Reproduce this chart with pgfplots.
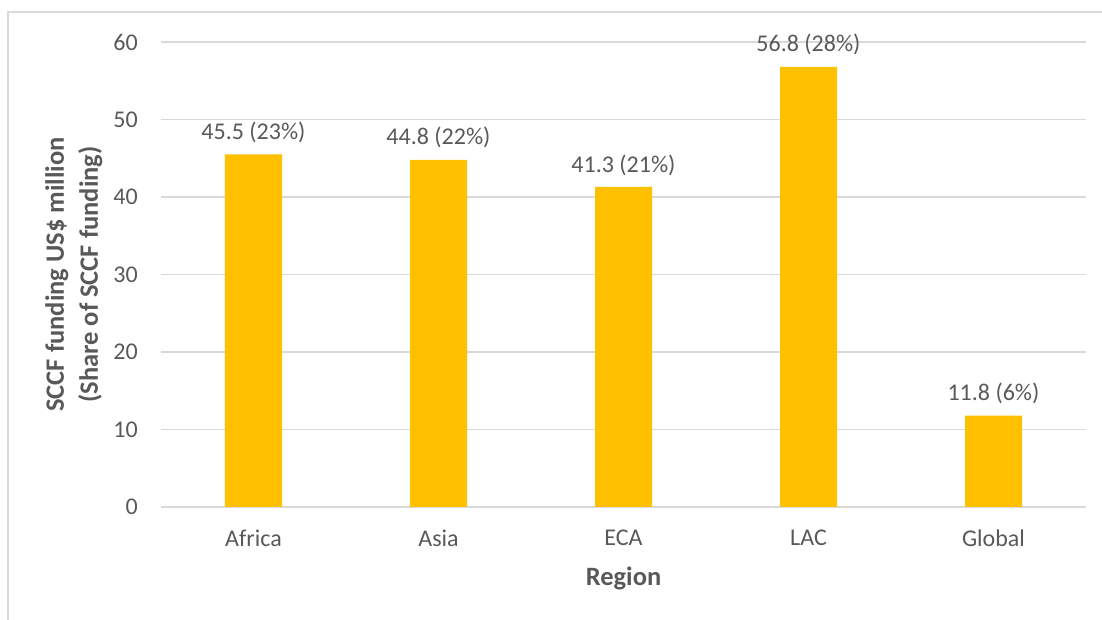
\documentclass[border=0pt]{standalone}
\usepackage{pgfplots}
\pgfplotsset{compat=1.18}
\usepackage{fontspec}
\setmainfont{Carlito}
\definecolor{barc}{HTML}{FFC000}
\definecolor{gridc}{HTML}{D9D9D9}
\definecolor{txt}{HTML}{595959}
\begin{document}
\begin{tikzpicture}[x=1pt,y=1pt]
\useasboundingbox (-161,-113) rectangle (941,507);
\draw[gridc, line width=1.3pt] (-153,-113) -- (-153,495) -- (941,495);
\begin{axis}[
  at={(0,0)}, anchor=south west,
  scale only axis, width=925pt, height=465pt,
  xmin=-0.5, xmax=4.5, ymin=0, ymax=60,
  ytick={0,10,...,60},
  xtick=data, xticklabels={Africa,Asia,ECA,LAC,Global},
  ymajorgrids, grid style={gridc, line width=1.2pt},
  axis line style={draw=none},
  major tick length=0pt,
  /pgf/number format/assume math mode=true,
  tick label style={font=\fontsize{24}{28}\selectfont, text=txt},
  yticklabel style={anchor=east, inner sep=0pt, xshift=-23pt},
  xticklabel style={anchor=center, inner sep=0pt, yshift=-31pt},
  xlabel={Region},
  ylabel={\def\arraystretch{1}\begin{tabular}{@{}c@{}}SCCF funding US\$ million\\(Share of SCCF funding)\end{tabular}},
  label style={font=\bfseries\fontsize{26.5}{34}\selectfont, text=txt},
  xlabel style={at={(axis description cs:0.5,-0.1527)}, anchor=center, inner sep=0pt},
  ylabel style={at={(axis description cs:-0.094,0.5)}, anchor=center, inner sep=0pt},
  ybar, bar width=57pt,
  nodes near coords,
  point meta=explicit symbolic,
  every node near coord/.append style={anchor=center, yshift=22pt, font=\fontsize{24}{28}\selectfont, text=txt, inner sep=0pt},
  clip=false,
]
\addplot[fill=barc, draw=none] coordinates {
  (0,45.5) [45.5 (23\%)]
  (1,44.8) [44.8 (22\%)]
  (2,41.3) [41.3 (21\%)]
  (3,56.8) [56.8 (28\%)]
  (4,11.8) [11.8 (6\%)]
};
\end{axis}
\end{tikzpicture}
\end{document}
